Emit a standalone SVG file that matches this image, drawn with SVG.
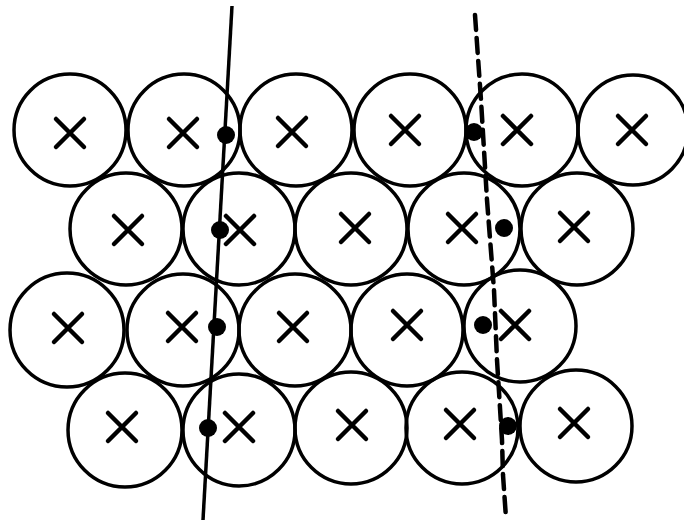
<svg xmlns="http://www.w3.org/2000/svg" width="684" height="523" viewBox="0 0 684 523">
<defs>
<style>
.c{fill:none;stroke:#000;stroke-width:3.5}
.x{stroke:#000;stroke-width:4.5;stroke-linecap:round}
.d{fill:#000}
.l{fill:none;stroke:#000;stroke-width:3.5}
.dash{fill:none;stroke:#000;stroke-width:4.5;stroke-dasharray:15 8;stroke-linecap:round}
</style>
<path id="xm" d="M-14,-14L14,14M14,-14L-14,14"/>
</defs>
<rect width="684" height="523" fill="#fff"/>
<g id="circles">
<circle class="c" cx="70" cy="130" r="56"/>
<circle class="c" cx="184" cy="130" r="56"/>
<circle class="c" cx="296" cy="130" r="56"/>
<circle class="c" cx="410" cy="130" r="56"/>
<circle class="c" cx="522" cy="130" r="56"/>
<circle class="c" cx="633" cy="130" r="55"/>
<circle class="c" cx="126" cy="229" r="56"/>
<circle class="c" cx="239" cy="229" r="56"/>
<circle class="c" cx="351" cy="229" r="56"/>
<circle class="c" cx="464" cy="229" r="56"/>
<circle class="c" cx="577" cy="229" r="56"/>
<circle class="c" cx="67" cy="330" r="57"/>
<circle class="c" cx="183" cy="330" r="56"/>
<circle class="c" cx="295" cy="330" r="56"/>
<circle class="c" cx="407" cy="330" r="56"/>
<circle class="c" cx="520" cy="326" r="56"/>
<circle class="c" cx="125" cy="430" r="57"/>
<circle class="c" cx="239" cy="430" r="56"/>
<circle class="c" cx="351" cy="428" r="56"/>
<circle class="c" cx="462" cy="428" r="56"/>
<circle class="c" cx="576" cy="426" r="56"/>
</g>
<g id="crosses">
<use href="#xm" class="x" x="70" y="133"/>
<use href="#xm" class="x" x="183" y="133"/>
<use href="#xm" class="x" x="292" y="132"/>
<use href="#xm" class="x" x="405" y="130"/>
<use href="#xm" class="x" x="517" y="130"/>
<use href="#xm" class="x" x="632" y="130"/>
<use href="#xm" class="x" x="128" y="230"/>
<use href="#xm" class="x" x="240" y="230"/>
<use href="#xm" class="x" x="355" y="228"/>
<use href="#xm" class="x" x="462" y="228"/>
<use href="#xm" class="x" x="574" y="227"/>
<use href="#xm" class="x" x="68" y="328"/>
<use href="#xm" class="x" x="182" y="327"/>
<use href="#xm" class="x" x="293" y="327"/>
<use href="#xm" class="x" x="407" y="325"/>
<use href="#xm" class="x" x="515" y="325"/>
<use href="#xm" class="x" x="122" y="427"/>
<use href="#xm" class="x" x="239" y="427"/>
<use href="#xm" class="x" x="352" y="425"/>
<use href="#xm" class="x" x="460" y="424"/>
<use href="#xm" class="x" x="574" y="423"/>
</g>
<g id="lines">
<line class="l" x1="232" y1="6" x2="203" y2="520"/>
<polyline class="dash" points="475,15 481,100 487,200 494,290 497,360 502,440 503,475 506,518"/>
</g>
<g id="dots">
<circle class="d" cx="226" cy="135" r="9"/>
<circle class="d" cx="220" cy="230" r="9"/>
<circle class="d" cx="217" cy="327" r="9"/>
<circle class="d" cx="208" cy="428" r="9"/>
<circle class="d" cx="474" cy="132" r="9"/>
<circle class="d" cx="504" cy="228" r="9"/>
<circle class="d" cx="483" cy="325" r="9"/>
<circle class="d" cx="508" cy="426" r="9"/>
</g>
</svg>
